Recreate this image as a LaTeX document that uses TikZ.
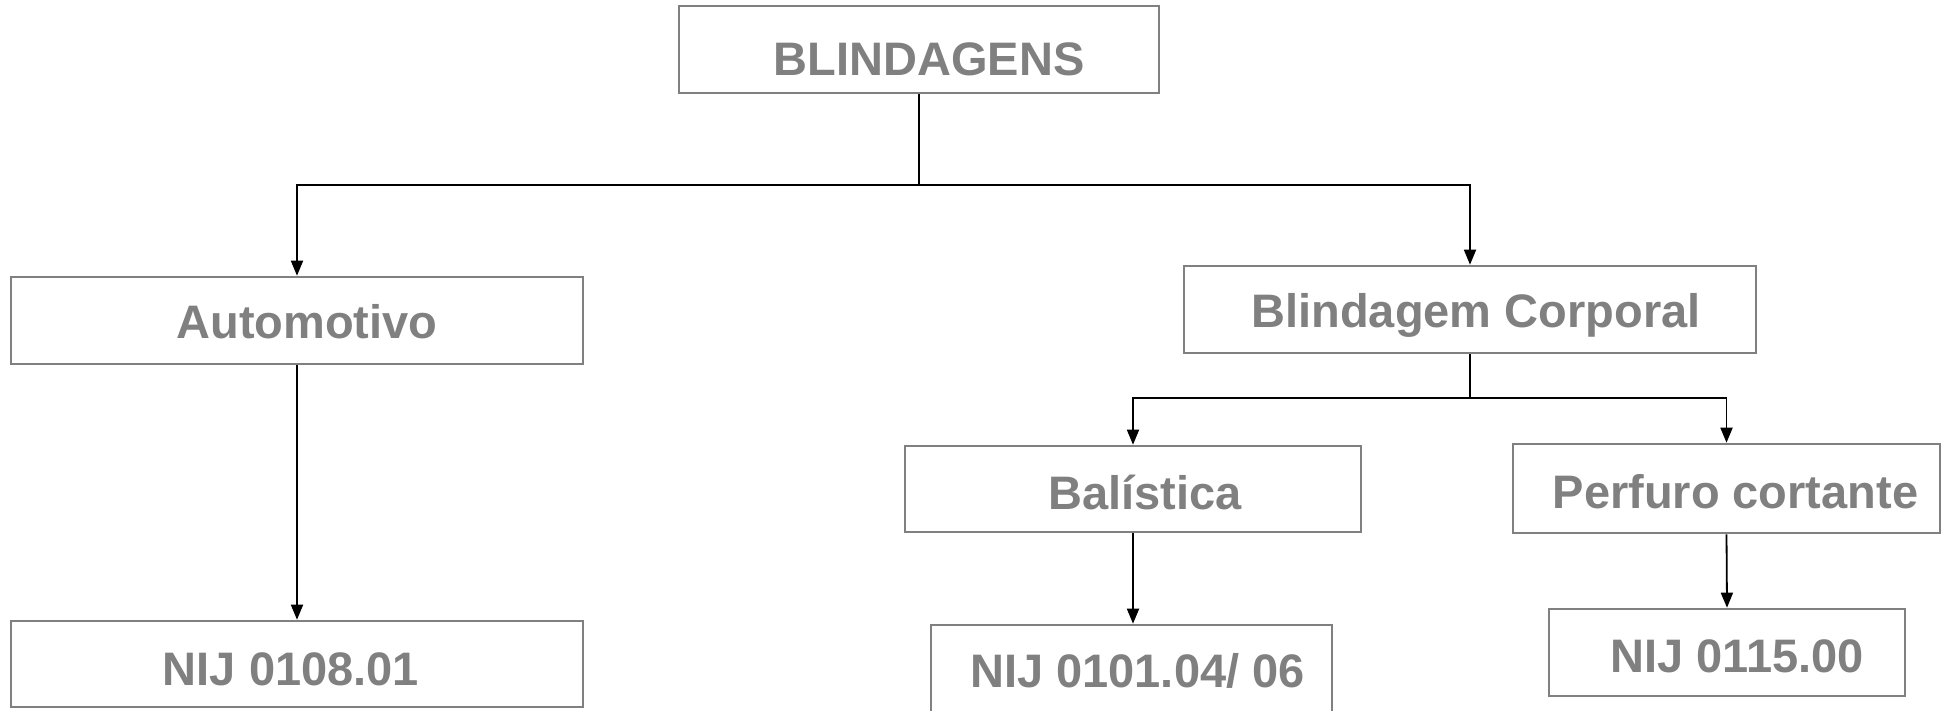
\documentclass[tikz,border=0pt]{standalone}
\usepackage{fontspec}
\setmainfont{Liberation Sans}
\usetikzlibrary{arrows.meta}
\definecolor{boxgray}{HTML}{808080}
\definecolor{txtgray}{HTML}{808080}
\tikzset{
  box/.style={draw=boxgray, line width=2.6pt, rectangle, inner sep=0pt,
    text=txtgray, font=\fontsize{47pt}{56pt}\selectfont\bfseries,
    text height=34pt, text depth=0pt, align=center},
  conn/.style={draw=black, line width=1.8pt},
  arr/.style={conn, -{Triangle[length=15pt,width=12pt]}}
}
\newcommand{\shifttext}[3]{\hspace*{#1pt}\raisebox{-#2pt}{#3}}
\begin{document}
\begin{tikzpicture}[x=1pt,y=-1pt]
\useasboundingbox (0,0) rectangle (1946,710);
\node[box, minimum width=480pt, minimum height=87pt] (top) at (919,49.5) {\shifttext{20}{9}{BLINDAGENS}};
\node[box, minimum width=572pt, minimum height=87pt] (auto) at (297,320.5) {\shifttext{20}{1}{Automotivo}};
\node[box, minimum width=572pt, minimum height=87pt] (corp) at (1470,309.5) {\shifttext{12}{1}{Blindagem Corporal}};
\node[box, minimum width=456pt, minimum height=86pt] (bal) at (1133,489) {\shifttext{24}{3}{Balística}};
\node[box, minimum width=427pt, minimum height=89pt] (perf) at (1726.5,488.5) {\shifttext{18}{3}{Perfuro cortante}};
\node[box, minimum width=572pt, minimum height=86pt] (nij1) at (297,664) {\shifttext{-12}{4}{NIJ 0108.01}};
\node[box, minimum width=401pt, minimum height=87pt] (nij2) at (1131.5,668.5) {\shifttext{12}{2}{NIJ 0101.04/ 06}};
\node[box, minimum width=356pt, minimum height=87pt] (nij3) at (1727,652.5) {\shifttext{20}{3}{NIJ 0115.00}};
\coordinate (j1) at (919,185);
\coordinate (j2) at (1470,398);
\draw[conn] (top.south) -- (j1);
\draw[arr] (j1) -| (auto.north);
\draw[arr] (j1) -| (corp.north);
\draw[arr] (auto.south) -- (nij1.north);
\draw[conn] (corp.south) -- (j2);
\draw[arr] (j2) -| (bal.north);
\draw[arr] (j2) -| (perf.north);
\draw[arr] (bal.south) -- (bal.south |- nij2.north);
\draw[arr] (perf.south) -- (nij3.north);
\end{tikzpicture}
\end{document}
